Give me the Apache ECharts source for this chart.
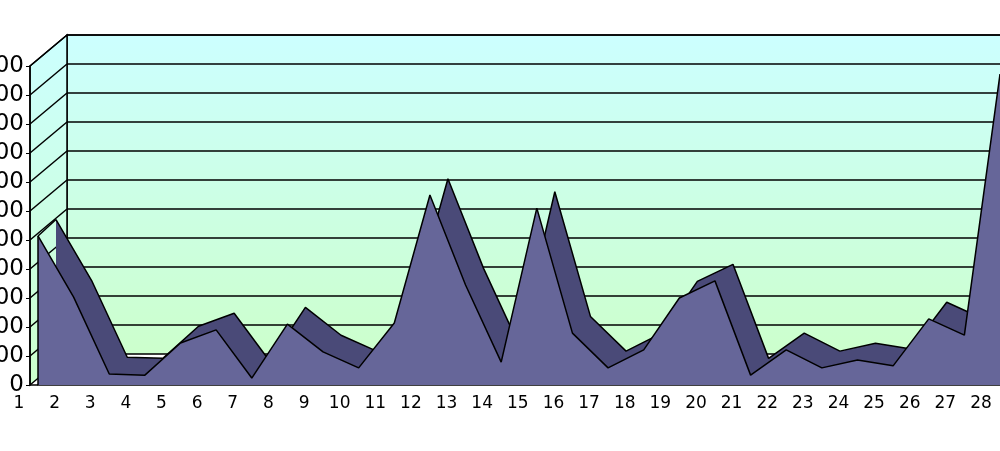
<!DOCTYPE html>
<html>
<head>
<meta charset="utf-8">
<script src="https://cdn.jsdelivr.net/npm/echarts@6/dist/echarts.min.js"></script>
<style>html,body{margin:0;padding:0;background:#fff}#main{width:1000px;height:451px}</style>
</head>
<body>
<div id="main"></div>
<script>
var categories = ['1','2','3','4','5','6','7','8','9','10','11','12','13','14','15','16','17','18','19','20','21','22','23','24','25','26','27','28'];
var values = [514,303,38,34,145,190,24,210,114,59,214,655,345,79,610,179,59,121,300,359,34,121,59,86,66,228,172,1072];
var yMax = 1100, yStep = 100;

var chart = echarts.init(document.getElementById('main'));
var wallFill = new echarts.graphic.LinearGradient(0, 0, 0, 1, [
    {offset: 0, color: '#ccffff'}, {offset: 1, color: '#ccffcc'}
]);
var dx = 37, dy = 31;     // wall depth
var sx = 18, sy = 16;     // ribbon depth
var frontH = 451 - 66 - 66;
var backMin = -yMax * sy / (frontH - sy);

var option = {
    animation: false,
    grid: [
        {left: 38, right: 0, top: 66, bottom: 66, outerBoundsMode: 'none', containLabel: false},
        {left: 38 + sx, right: -sx, top: 66 - sy, bottom: 66, outerBoundsMode: 'none', containLabel: false}
    ],
    xAxis: [
        {gridIndex: 0, type: 'category', boundaryGap: false, data: categories,
         axisLine: {lineStyle: {color: '#000', width: 1.5}}, axisTick: {show: false},
         axisLabel: {color: '#000', fontSize: 17, fontFamily: 'DejaVu Sans', margin: 10, padding: [0, 38, 0, 0]}},
        {gridIndex: 1, type: 'category', boundaryGap: false, data: categories, show: false}
    ],
    yAxis: [
        {gridIndex: 0, type: 'value', min: 0, max: yMax, interval: yStep, offset: 8,
         axisLine: {show: true, lineStyle: {color: '#000', width: 1.5}},
         axisTick: {show: true, length: 4, lineStyle: {color: '#000'}},
         splitLine: {show: false},
         axisLabel: {color: '#000', fontSize: 23, fontFamily: 'DejaVu Sans', margin: 6,
                     formatter: function (v) { return String(v); }}},
        {gridIndex: 1, type: 'value', min: backMin, max: yMax, show: false, splitLine: {show: false}}
    ],
    series: [
        {type: 'line', xAxisIndex: 1, yAxisIndex: 1, data: values, symbol: 'none', z: 3,
         lineStyle: {color: '#000', width: 1.5}, areaStyle: {color: '#4a4a78', opacity: 1, origin: 'start'}},
        {type: 'line', xAxisIndex: 0, yAxisIndex: 0, data: values, symbol: 'none', z: 4,
         lineStyle: {color: '#000', width: 1.5}, areaStyle: {color: '#666699', opacity: 1}}
    ]
};
chart.setOption(option);

// walls (back + left side), back gridlines, side-wall tick lines, front left edge
var ax = 30;
var y0 = chart.convertToPixel({yAxisIndex: 0}, 0);
var yTop = chart.convertToPixel({yAxisIndex: 0}, yMax);
var els = [
    {type: 'rect', z: -10, shape: {x: ax + dx, y: yTop - dy, width: 1000, height: y0 - yTop}, style: {fill: wallFill, stroke: '#000', lineWidth: 1.5}},
    {type: 'polygon', z: -9, shape: {points: [[ax, yTop], [ax + dx, yTop - dy], [ax + dx, y0 - dy], [ax, y0]]}, style: {fill: wallFill, stroke: '#000', lineWidth: 1.5}}
];
for (var v = yStep; v <= yMax; v += yStep) {
    var py = chart.convertToPixel({yAxisIndex: 0}, v);
    els.push({type: 'line', z: -8, shape: {x1: ax, y1: py, x2: ax + dx, y2: py - dy}, style: {stroke: '#000', lineWidth: 1.5}});
    els.push({type: 'line', z: -8, shape: {x1: ax + dx, y1: py - dy, x2: 1000, y2: py - dy}, style: {stroke: '#000', lineWidth: 1.5}});
}
var p0 = chart.convertToPixel({xAxisIndex: 0, yAxisIndex: 0}, [0, values[0]]);
var b0 = chart.convertToPixel({xAxisIndex: 1, yAxisIndex: 1}, [0, values[0]]);
els.push({type: 'line', z: 10, shape: {x1: p0[0], y1: y0, x2: p0[0], y2: p0[1]}, style: {stroke: '#000', lineWidth: 1.5}});
els.push({type: 'line', z: 10, shape: {x1: p0[0], y1: p0[1], x2: b0[0], y2: b0[1]}, style: {stroke: '#000', lineWidth: 1.5}});
els.push({type: 'line', z: 10, shape: {x1: ax, y1: y0, x2: 38, y2: y0}, style: {stroke: '#000', lineWidth: 1.5}});
chart.setOption({graphic: els});
</script>
</body>
</html>
